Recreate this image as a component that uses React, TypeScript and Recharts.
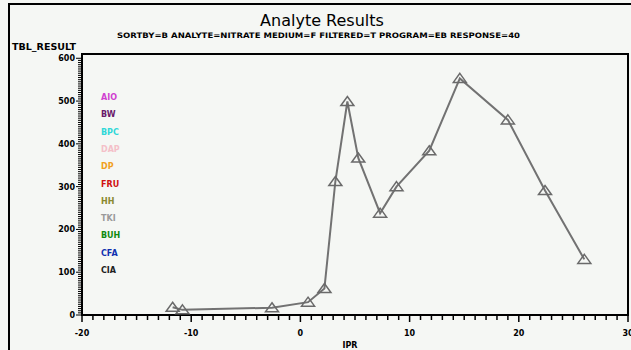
import React from 'react'
import { LineChart, Line, XAxis, YAxis, ReferenceArea } from 'recharts'

// IPR (x) and analyte result (y) pairs for the plotted series
const ipr = [-11.7, -10.8, -2.6, 0.7, 2.2, 3.2, 4.3, 5.3, 7.3, 8.8, 11.8, 14.6, 19.0, 22.4, 26.0]
const results = [18, 12, 17, 30, 62, 312, 499, 367, 238, 300, 384, 553, 456, 291, 130]

// legend entries (site codes) and their colours
const sites = ['AIO', 'BW', 'BPC', 'DAP', 'DP', 'FRU', 'HH', 'TKI', 'BUH', 'CFA', 'CIA']
const siteColors = ['#d040d0', '#6a1a6a', '#30d8d8', '#f4c0c8', '#f0a020', '#d01010', '#8a8a30', '#9a9a9a', '#108a10', '#1030b0', '#202020']

const xTicks = Array.from({ length: 51 }, (_, i) => i - 20)
const yTicks = Array.from({ length: 121 }, (_, i) => i * 5)

const TITLE = 'Analyte Results'
const SUBTITLE = 'SORTBY=B ANALYTE=NITRATE MEDIUM=F FILTERED=T PROGRAM=EB RESPONSE=40'

const data = ipr.map((x, i) => ({ ipr: x, result: results[i] }))

const FONT = '"DejaVu Sans", sans-serif'
// recharts places the tick content tickSize (6) + tickMargin (2) away from the axis line
const OFF = 8

// tick mark for every value, longer mark + label on the majors
function XTick({ x, y, payload }: any) {
  const v = payload.value
  const major = v % 10 === 0
  const ay = y - OFF
  return (
    <g>
      <line x1={x} x2={x} y1={ay} y2={ay + (major ? 7 : 5)} stroke="#000" strokeWidth={1.5} />
      {major && (
        <text x={x} y={ay + 21} textAnchor="middle" fontFamily={FONT} fontWeight={700} fontSize={8} fill="#000">
          {v}
        </text>
      )}
    </g>
  )
}

function YTick({ x, y, payload }: any) {
  const v = payload.value
  const major = v % 100 === 0
  const ax = x + OFF
  return (
    <g>
      <line x1={ax - (major ? 6 : 4)} x2={ax} y1={y} y2={y} stroke="#000" strokeWidth={1} />
      {major && (
        <text x={ax - 7} y={y + 3} textAnchor="end" fontFamily={FONT} fontWeight={700} fontSize={8} fill="#000">
          {v}
        </text>
      )}
    </g>
  )
}

function Triangle({ cx, cy }: any) {
  if (cx == null || cy == null) return null
  return (
    <path
      d={`M${cx},${cy - 5} L${cx + 6.5},${cy + 4} L${cx - 6.5},${cy + 4} Z`}
      fill="none"
      stroke="#6a6a6a"
      strokeWidth={1.5}
    />
  )
}

export default function App() {
  return (
    <div style={{ position: 'absolute', left: 0, top: 0, width: 631, height: 350, background: '#f5f7f4', overflow: 'hidden' }}>
      <LineChart
        width={631}
        height={350}
        data={data}
        margin={{ top: 54, right: 3, bottom: 0, left: 0 }}
        style={{ position: 'absolute', left: 0, top: 0 }}
      >
        <XAxis
          dataKey="ipr"
          type="number"
          domain={[-20, 30]}
          ticks={xTicks}
          interval={0}
          tickLine={false}
          tick={<XTick />}
          height={35}
          axisLine={{ stroke: '#000', strokeWidth: 2 }}
        />
        <YAxis
          type="number"
          domain={[0, 610]}
          ticks={yTicks}
          interval={0}
          tickLine={false}
          tick={<YTick />}
          width={82}
          axisLine={{ stroke: '#000', strokeWidth: 2 }}
          allowDataOverflow
        />
        <ReferenceArea x1={-20} x2={30} y1={0} y2={610} fill="none" stroke="#000" strokeWidth={2} ifOverflow="visible" />
        <Line
          dataKey="result"
          stroke="#727272"
          strokeWidth={2}
          dot={<Triangle />}
          activeDot={false}
          isAnimationActive={false}
        />
      </LineChart>
      <svg width={631} height={350} style={{ position: 'absolute', left: 0, top: 0, pointerEvents: 'none' }}>
        {/* page frame */}
        <line x1={9} x2={9} y1={3} y2={350} stroke="#000" strokeWidth={2} />
        <line x1={8} x2={631} y1={4} y2={4} stroke="#000" strokeWidth={2} />
        <text x={322} y={26} textAnchor="middle" fontFamily={FONT} fontSize={16} fill="#000">{TITLE}</text>
        <text x={117} y={38} textLength={403} lengthAdjust="spacingAndGlyphs" fontFamily={FONT} fontWeight={700} fontSize={7.5} fill="#000">
          {SUBTITLE}
        </text>
        <text x={12} y={50} textLength={64} lengthAdjust="spacingAndGlyphs" fontFamily={FONT} fontWeight={700} fontSize={8} fill="#000">
          TBL_RESULT
        </text>
        <text x={350} y={348} textAnchor="middle" fontFamily={FONT} fontWeight={700} fontSize={8} fill="#000">IPR</text>
        {sites.map((s, i) => (
          <text key={s} x={101} y={100 + i * 17.3} fontFamily={FONT} fontWeight={700} fontSize={8} fill={siteColors[i]}>
            {s}
          </text>
        ))}
      </svg>
    </div>
  )
}
